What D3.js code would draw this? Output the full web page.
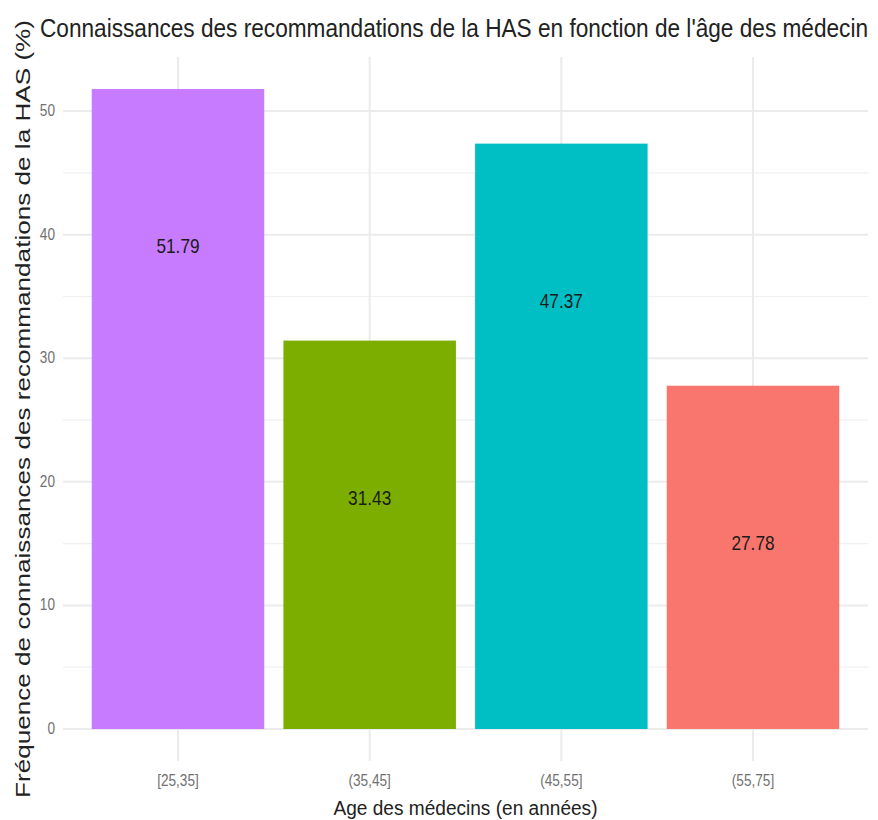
<!DOCTYPE html>
<html lang="fr">
<head>
<meta charset="UTF-8">
<title>Connaissances HAS</title>
<script src="https://d3js.org/d3.v7.min.js"></script>
<style>
  body { margin: 0; background: white; }
  svg text { font-family: "Liberation Sans", Arial, sans-serif; }
</style>
</head>
<body>
<svg width="878" height="820"></svg>
<script>
// data
var categories = ["[25,35]", "(35,45]", "(45,55]", "(55,75]"];
var values = [51.79, 31.43, 47.37, 27.78];
var barColors = ["#C77CFF", "#7CAE00", "#00BFC4", "#F8766D"];
var yTicks = [0, 10, 20, 30, 40, 50];
var yMinor = [5, 15, 25, 35, 45];

var svg = d3.select("svg");
var panelLeft = 63, panelRight = 868, panelTop = 57, panelBottom = 761;

// horizontally condensed text, like the picture
function squeeze(sel, k) {
    sel.each(function() {
        var w = this.getComputedTextLength();
        d3.select(this).attr("textLength", w * k).attr("lengthAdjust", "spacingAndGlyphs");
    });
}

var x = d3.scaleBand().domain(categories).range([panelLeft, panelRight])
    .paddingInner(0.1).paddingOuter(0.15);
var ymax = d3.max(values);
var y = d3.scaleLinear().domain([-0.05 * ymax, ymax * 1.05]).range([panelBottom, panelTop]);

// grid
svg.append("g").selectAll("line.minor").data(yMinor).enter().append("line")
    .attr("x1", panelLeft).attr("x2", panelRight)
    .attr("y1", function(d) { return y(d); }).attr("y2", function(d) { return y(d); })
    .attr("stroke", "#f0f0f0").attr("stroke-width", 1.2);
svg.append("g").selectAll("line.major").data(yTicks).enter().append("line")
    .attr("x1", panelLeft).attr("x2", panelRight)
    .attr("y1", function(d) { return y(d); }).attr("y2", function(d) { return y(d); })
    .attr("stroke", "#ebebeb").attr("stroke-width", 2);
svg.append("g").selectAll("line.vert").data(categories).enter().append("line")
    .attr("x1", function(d) { return x(d) + x.bandwidth() / 2; })
    .attr("x2", function(d) { return x(d) + x.bandwidth() / 2; })
    .attr("y1", panelTop).attr("y2", panelBottom)
    .attr("stroke", "#ebebeb").attr("stroke-width", 2);

// bars
svg.append("g").selectAll("rect").data(values).enter().append("rect")
    .attr("x", function(d, i) { return x(categories[i]); })
    .attr("width", x.bandwidth())
    .attr("y", function(d) { return y(d); })
    .attr("height", function(d) { return y(0) - y(d); })
    .attr("fill", function(d, i) { return barColors[i]; });

// labels inside bars
var labels = svg.append("g").selectAll("text").data(values).enter().append("text")
    .attr("x", function(d, i) { return x(categories[i]) + x.bandwidth() / 2; })
    .attr("y", function(d) { return y(d - 13.3); })
    .attr("text-anchor", "middle")
    .attr("font-size", 21)
    .attr("fill", "#1a1a1a")
    .text(function(d) { return d.toFixed(2); });
squeeze(labels, 0.82);

// y tick labels
var yl = svg.append("g").selectAll("text").data(yTicks).enter().append("text")
    .attr("x", 55)
    .attr("y", function(d) { return y(d) + 5; })
    .attr("text-anchor", "end")
    .attr("font-size", 16)
    .attr("fill", "#707070")
    .text(function(d) { return d; });
squeeze(yl, 0.85);

// x tick labels
var xl = svg.append("g").selectAll("text").data(categories).enter().append("text")
    .attr("x", function(d) { return x(d) + x.bandwidth() / 2; })
    .attr("y", 786)
    .attr("text-anchor", "middle")
    .attr("font-size", 16)
    .attr("fill", "#707070")
    .text(function(d) { return d; });
squeeze(xl, 0.85);

// titles
svg.append("text")
    .attr("x", 40).attr("y", 37)
    .attr("font-size", 25).attr("fill", "#222")
    .attr("textLength", 828).attr("lengthAdjust", "spacingAndGlyphs")
    .text("Connaissances des recommandations de la HAS en fonction de l'âge des médecin");

svg.append("text")
    .attr("x", (panelLeft + panelRight) / 2).attr("y", 815)
    .attr("text-anchor", "middle")
    .attr("font-size", 20).attr("fill", "#222")
    .attr("textLength", 264).attr("lengthAdjust", "spacingAndGlyphs")
    .text("Age des médecins (en années)");

svg.append("text")
    .attr("transform", "translate(30," + ((panelTop + panelBottom) / 2) + ") rotate(-90)")
    .attr("text-anchor", "middle")
    .attr("font-size", 20).attr("fill", "#222")
    .attr("textLength", 778).attr("lengthAdjust", "spacingAndGlyphs")
    .text("Fréquence de connaissances des recommandations de la HAS (%)");
</script>
</body>
</html>
